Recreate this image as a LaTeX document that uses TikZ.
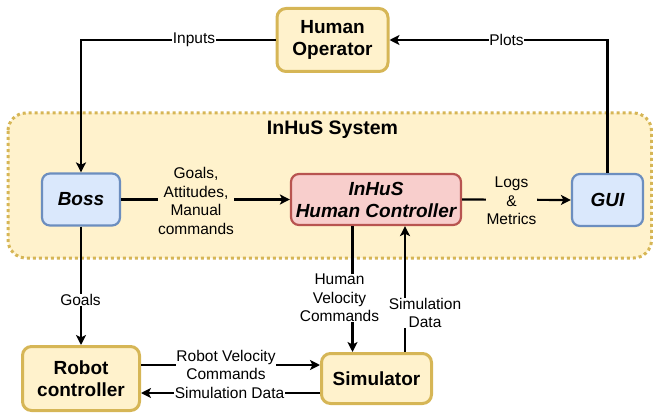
\documentclass[tikz,border=0pt]{standalone}
\usepackage{fontspec}
\setmainfont{Liberation Sans}
\usetikzlibrary{arrows.meta}
\definecolor{yfill}{HTML}{FFF2CC}
\definecolor{ydraw}{HTML}{D6B656}
\definecolor{bfill}{HTML}{DAE8FC}
\definecolor{bdraw}{HTML}{6C8EBF}
\definecolor{rfill}{HTML}{F8CECC}
\definecolor{rdraw}{HTML}{B85450}
\begin{document}
\begin{tikzpicture}[x=1pt,y=-1pt,
  ybox/.style={draw=ydraw, fill=yfill, line width=3pt, rounded corners=9pt,
    font=\fontsize{19}{22}\selectfont\bfseries, align=center, inner sep=0pt},
  bbox/.style={draw=bdraw, fill=bfill, line width=2.2pt, rounded corners=8pt,
    font=\fontsize{19}{22}\selectfont\bfseries\itshape, align=center, inner sep=0pt},
  rbox/.style={draw=rdraw, fill=rfill, line width=2.2pt, rounded corners=8pt,
    font=\fontsize{19}{22}\selectfont\bfseries\itshape, align=center, inner sep=0pt},
  conn/.style={line width=2.2pt, -{Stealth[length=10pt,width=10pt,inset=2.5pt]}},
  lbl/.style={font=\fontsize{15.5}{18.5}\selectfont, align=center, inner sep=0.5pt, fill=white},
  lbly/.style={lbl, fill=yfill},
  region/.style={draw=ydraw, fill=yfill, line width=3pt, rounded corners=18pt,
    dash pattern=on 3pt off 3pt},
]
\useasboundingbox (0,0) rectangle (653,417);
% system region
\draw[region] (8,113) rectangle (651.5,258);
\node[font=\fontsize{19.5}{22}\selectfont\bfseries] (title) at (332.5,130) {InHuS System};
% nodes
\node[ybox, minimum width=111pt, minimum height=63pt] (hop) at (332.5,40) {Human\\Operator};
\node[bbox, minimum width=78pt, minimum height=52pt] (boss) at (81,199.5) {Boss};
\node[rbox, minimum width=170pt, minimum height=51pt] (hc) at (376,199.5) {InHuS\\Human Controller};
\node[bbox, minimum width=71pt, minimum height=52pt] (gui) at (607.5,200) {GUI};
\node[ybox, minimum width=110pt, minimum height=50pt] (sim) at (376.5,378.5) {Simulator};
\node[ybox, minimum width=117pt, minimum height=64pt] (rc) at (81,378.5) {Robot\\controller};
% helper coordinates
\coordinate (xh) at (352.5,0);
\coordinate (xs) at (405,0);
\coordinate (ya) at (0,365);
\coordinate (yb) at (0,393);
% connectors
\draw[conn] (hop.west) -| (boss.north);
\draw[conn] (gui.north) |- (hop.east);
\draw[conn] (boss.east) -- (hc.west);
\draw[conn] (hc.east) -- (gui.west);
\draw[conn] (hc.south -| xh) -- (sim.north -| xh);
\draw[conn] (sim.north -| xs) -- (hc.south -| xs);
\draw[conn] (boss.south) -- (rc.north);
\draw[conn] (rc.east |- ya) -- (sim.west |- ya);
\draw[conn] (sim.west |- yb) -- (rc.east |- yb);
% labels
\node[lbl] (linputs) at (194,40) {Inputs};
\node[lbl] (lplots) at (506.5,40) {Plots};
\node[lbly] (lgoals) at (196,201) {Goals,\\Attitudes,\\Manual\\commands};
\node[lbly] (llogs) at (511.5,201) {Logs\\\&\\Metrics};
\node[lbl] (lhvc) at (339.5,298) {Human\\Velocity\\Commands};
\node[lbl] (lsd) at (425,313) {Simulation\\Data};
\node[lbl] (lg2) at (80.5,300) {Goals};
\node[lbl] (lrvc) at (226,365) {Robot Velocity\\Commands};
\node[lbl] (lsd2) at (229.5,393) {Simulation Data};
\end{tikzpicture}
\end{document}
